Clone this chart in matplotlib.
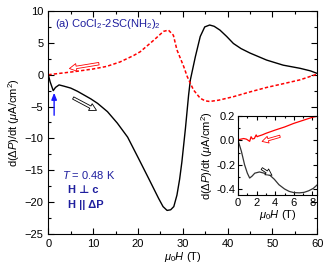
import numpy as np
import matplotlib
matplotlib.use('Agg')
import matplotlib.pyplot as plt
from matplotlib.ticker import MultipleLocator

plt.rcParams['font.family'] = ['Liberation Sans', 'DejaVu Sans']
plt.rcParams['mathtext.fontset'] = 'custom'
plt.rcParams['mathtext.rm'] = 'Liberation Sans'
plt.rcParams['mathtext.it'] = 'Liberation Sans:italic'
plt.rcParams['mathtext.bf'] = 'Liberation Sans:bold'
plt.rcParams['font.size'] = 8

# main panel, up sweep (black) and down sweep (red dashed)
H_up = [0, 0.4, 1.1, 1.6, 2.4, 3.5, 5.0, 6.5, 8.0, 9.5, 11.0, 13.2, 15.4, 17.7, 20.1,
        22.4, 24.6, 25.6, 26.5, 27.3, 28.0, 28.7, 29.3, 29.8, 30.6, 31.3, 31.7, 32.8,
        33.9, 34.9, 36.0, 37.0, 38.3, 39.8, 41.3, 43.0, 45.0, 48.7, 52.4, 56.2, 58.5, 60.0]
J_up = [0, -1.1, -2.5, -2.0, -1.6, -1.8, -2.1, -2.6, -3.2, -3.8, -4.5, -5.8, -7.6, -9.8, -13.1,
        -16.3, -19.4, -20.7, -21.3, -21.2, -20.7, -18.9, -16.4, -13.7, -8.4, -3.2, -0.8, 2.8,
        6.0, 7.5, 7.8, 7.6, 7.0, 6.0, 4.9, 4.1, 3.4, 2.3, 1.5, 1.0, 0.6, 0.2]

H_dn = [0, 3, 6, 10, 13, 16, 19, 20.5, 22, 23.5, 25.7, 26.8, 27.9, 28.7, 30.2, 31.0,
        32.4, 33.9, 35.0, 36.0, 38.0, 41.3, 45.0, 48.7, 52.5, 56.2, 60.0]
J_dn = [0, 0.25, 0.5, 0.9, 1.3, 2.0, 3.0, 3.6, 4.5, 5.4, 6.8, 7.0, 6.2, 3.9, 1.3, -0.3,
        -2.4, -3.7, -4.1, -4.2, -4.0, -3.45, -2.7, -2.0, -1.4, -0.8, 0.1]

# inset, low field
h_up = [0, 0.36, 0.7, 1.0, 1.25, 1.5, 1.8, 2.3, 2.8, 3.4, 3.9, 4.4, 5.0, 5.5, 6.0, 6.6, 7.1, 7.6, 8.1, 8.6]
j_up = [0, -0.09, -0.2, -0.27, -0.31, -0.295, -0.27, -0.26, -0.27, -0.285, -0.32, -0.365, -0.4,
        -0.42, -0.43, -0.432, -0.428, -0.415, -0.395, -0.36]

h_dn = [0, 0.3, 0.6, 0.9, 1.1, 1.25, 1.4, 1.55, 1.75, 1.95, 2.05, 2.2, 2.6, 3.0, 4.0, 5.0, 6.0, 7.0, 8.0, 8.6]
j_dn = [0.005, 0.01, 0.015, 0.01, 0.0, -0.008, 0.03, 0.012, 0.015, 0.045, 0.03, 0.035, 0.045,
        0.058, 0.085, 0.11, 0.14, 0.165, 0.19, 0.2]

blue = '#1e1e9e'

fig = plt.figure(figsize=(3.32, 2.65), dpi=100)
ax = fig.add_axes([0.1455, 0.117, 0.81, 0.8415])

ax.plot(H_up, J_up, color='k', lw=1.0)
ax.plot(H_dn, J_dn, color='red', lw=1.1, dashes=(2.2, 1.4))

hollow = 'simple,head_length=0.5,head_width=0.55,tail_width=0.18'
ax.annotate('', xy=(11.3, -5.8), xytext=(5.0, -3.45),
            arrowprops=dict(arrowstyle=hollow, fc='white', ec='k', lw=0.6, mutation_scale=10))
ax.annotate('', xy=(4.1, 0.9), xytext=(11.9, 1.8),
            arrowprops=dict(arrowstyle=hollow, fc='white', ec='red', lw=0.6, mutation_scale=10))
ax.annotate('', xy=(1.3, -2.4), xytext=(1.3, -6.8),
            arrowprops=dict(arrowstyle='-|>,head_length=0.5,head_width=0.2', color='#1a1aff', lw=1.0))

ax.set_xlim(0, 60)
ax.set_ylim(-25, 10)
ax.xaxis.set_major_locator(MultipleLocator(10))
ax.xaxis.set_minor_locator(MultipleLocator(5))
ax.yaxis.set_major_locator(MultipleLocator(5))
ax.yaxis.set_minor_locator(MultipleLocator(2.5))
ax.tick_params(which='both', direction='in', top=True, right=True, labelsize=8)
ax.tick_params(which='major', length=4, width=0.8)
ax.tick_params(which='minor', length=2, width=0.8)
ax.set_xlabel(r'$\mu_0H$ (T)', fontsize=8, labelpad=1)
ax.set_ylabel(r'd($\Delta P$)/dt ($\mu$A/cm$^2$)', fontsize=8, labelpad=2)

ax.text(0.025, 0.94, r'(a) CoCl$_2$-2SC(NH$_2$)$_2$', transform=ax.transAxes,
        color=blue, fontsize=8, va='center', ha='left')
ax.text(0.05, 0.265, r'$T$ = 0.48 K', transform=ax.transAxes, color=blue,
        fontsize=8, va='center', ha='left')
ax.text(0.074, 0.198, 'H \u22a5 c', transform=ax.transAxes, color=blue,
        fontsize=8, fontweight='bold', va='center', ha='left')
ax.text(0.074, 0.132, 'H || \u0394P', transform=ax.transAxes, color=blue,
        fontsize=8, fontweight='bold', va='center', ha='left')

# inset
axi = fig.add_axes([0.717, 0.264, 0.238, 0.298])
axi.plot(h_up, j_up, color='#333333', lw=0.9)
axi.plot(h_dn, j_dn, color='red', lw=0.9)
axi.annotate('', xy=(2.3, -0.015), xytext=(4.8, 0.04),
             arrowprops=dict(arrowstyle=hollow, fc='white', ec='red', lw=0.6, mutation_scale=9))
axi.annotate('', xy=(3.9, -0.30), xytext=(2.3, -0.22),
             arrowprops=dict(arrowstyle=hollow, fc='white', ec='k', lw=0.6, mutation_scale=9))
axi.set_xlim(0, 8.5)
axi.set_ylim(-0.45, 0.2)
axi.xaxis.set_major_locator(MultipleLocator(2))
axi.xaxis.set_minor_locator(MultipleLocator(1))
axi.yaxis.set_major_locator(MultipleLocator(0.2))
axi.yaxis.set_minor_locator(MultipleLocator(0.1))
axi.tick_params(which='both', direction='in', top=True, right=True, labelsize=8, pad=2)
axi.tick_params(which='major', length=3, width=0.8)
axi.tick_params(which='minor', length=1.5, width=0.8)
axi.set_yticklabels([])
axi.set_yticks([-0.4, -0.2, 0.0, 0.2])
axi.set_yticklabels(['-0.4', '-0.2', '0.0', '0.2'])
axi.set_xlabel(r'$\mu_0H$ (T)', fontsize=8, labelpad=0)
axi.set_ylabel(r'd($\Delta P$)/dt ($\mu$A/cm$^2$)', fontsize=8, labelpad=1)

fig.savefig('out.png', dpi=100)
